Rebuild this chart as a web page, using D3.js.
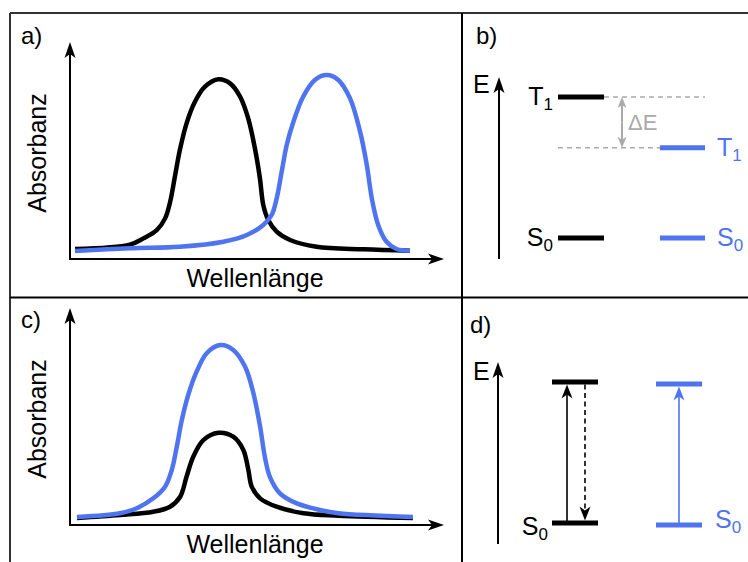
<!DOCTYPE html>
<html>
<head>
<meta charset="utf-8">
<script src="https://cdn.jsdelivr.net/npm/d3@7"></script>
<style>
  body { margin: 0; background: #fff; }
  svg { display: block; }
  text { font-family: "Liberation Sans", Arial, sans-serif; }
</style>
</head>
<body>
<svg id="fig" width="748" height="562"></svg>
<script>
const BLUE = "#4f74f0", GREY = "#aaaaaa";

// panel a: [wavelength 0-100, absorbance 0-1]
const specA_black = [[0,0.017],[16.4,0.042],[20.4,0.077],[24.4,0.124],[26.9,0.19],[28.4,0.284],[29.9,0.435],
  [31.3,0.576],[33.3,0.727],[35.8,0.849],[38.8,0.934],[42.8,0.976],[46.3,0.953],[49.3,0.877],[51.7,0.755],
  [53.7,0.586],[55.2,0.416],[56.2,0.266],[57.7,0.181],[60.2,0.115],[64.2,0.068],[72.1,0.03],[86.1,0.015],[100,0.007]];
const specA_blue = [[0,0.006],[16.4,0.021],[31.3,0.03],[44.3,0.058],[51.3,0.096],[56.2,0.153],[58.7,0.209],
  [60.2,0.303],[61.7,0.454],[63.2,0.605],[65.2,0.736],[68.1,0.877],[71.6,0.972],[75.1,1.0],[78.6,0.972],
  [82.1,0.868],[85.1,0.68],[87.1,0.492],[88.6,0.303],[90.5,0.153],[93.0,0.058],[96.0,0.017],[100,0.007]];

// panel c
const specC_blue = [[0,0.006],[12.8,0.027],[17.8,0.056],[22.7,0.113],[26.2,0.18],[28.2,0.276],[29.7,0.41],
  [31.2,0.563],[33.1,0.707],[35.6,0.841],[38.6,0.947],[42.6,0.994],[46.5,0.966],[50.0,0.87],[52.5,0.717],
  [54.5,0.525],[55.9,0.352],[57.4,0.237],[60.4,0.142],[65.4,0.084],[72.3,0.046],[77.8,0.027],[100,0.006]];
const specC_black = [[0,0.0],[12.8,0.017],[22.7,0.036],[27.7,0.065],[30.7,0.122],[32.6,0.237],[34.6,0.352],
  [37.6,0.448],[42.1,0.49],[46.5,0.467],[49.5,0.391],[51.0,0.276],[52.0,0.18],[54.5,0.113],[59.4,0.065],
  [67.4,0.027],[77.8,0.013],[100,0.0]];

// panel b: energy levels (relative)
const levelsB_black = [{name: "T", sub: "1", E: 1.0}, {name: "S", sub: "0", E: 0.0}];
const levelsB_blue = [{name: "T", sub: "1", E: 0.64}, {name: "S", sub: "0", E: 0.0}];

// panel d
const levelsD_black = [{name: "", sub: "", E: 1.0}, {name: "S", sub: "0", E: 0.0}];
const levelsD_blue = [{name: "", sub: "", E: 0.986}, {name: "S", sub: "0", E: -0.014}];

const svg = d3.select("#fig");

// frame
const frame = svg.append("g").attr("stroke-width", 2);
frame.append("line").attr("x1", 10).attr("y1", 13).attr("x2", 748).attr("y2", 13).attr("stroke", "#333");
frame.append("line").attr("x1", 10).attr("y1", 13).attr("x2", 10).attr("y2", 562).attr("stroke", "#333");
frame.append("line").attr("x1", 10).attr("y1", 297.5).attr("x2", 748).attr("y2", 297.5).attr("stroke", "#000");
frame.append("line").attr("x1", 462).attr("y1", 13).attr("x2", 462).attr("y2", 562).attr("stroke", "#000");

function arrow(g, x1, y1, x2, y2, o) {
  const ang = Math.atan2(y2 - y1, x2 - x1);
  const back = o.len - o.notch - 1;
  g.append("line")
    .attr("x1", x1).attr("y1", y1)
    .attr("x2", x2 - Math.cos(ang) * back).attr("y2", y2 - Math.sin(ang) * back)
    .attr("stroke", o.color).attr("stroke-width", o.width)
    .attr("stroke-dasharray", o.dash || null);
  g.append("path")
    .attr("d", `M0,0 L${-o.len},${-o.hw} L${-o.len + o.notch},0 L${-o.len},${o.hw} Z`)
    .attr("transform", `translate(${x2},${y2}) rotate(${ang * 180 / Math.PI})`)
    .attr("fill", o.color);
}
const axisHead = {len: 16, hw: 5.5, notch: 4, color: "#000", width: 2};

function label(g, x, y, t, size, anchor) {
  return g.append("text").attr("x", x).attr("y", y).attr("font-size", size)
    .attr("text-anchor", anchor || "start").text(t);
}

function spectrum(g, top, plot, series) {
  const x = d3.scaleLinear().domain([0, 100]).range(plot.x);
  const y = d3.scaleLinear().domain([0, 1]).range(plot.y);
  const line = d3.line().x(d => x(d[0])).y(d => y(d[1])).curve(d3.curveCatmullRom.alpha(0.5));
  series.forEach(s => {
    g.append("path").datum(s.data).attr("d", line)
      .attr("fill", "none").attr("stroke", s.color).attr("stroke-width", 4.5)
      .attr("stroke-linejoin", "round");
  });
  arrow(g, 70, plot.axisY, 70, top + 29, axisHead);
  arrow(g, 69, plot.axisY, 444, plot.axisY, axisHead);
  label(g, 0, 0, "Absorbanz", 25, "middle")
    .attr("transform", `translate(46,${plot.labelY}) rotate(-90)`);
  label(g, 255, plot.axisY + 28, "Wellenlänge", 25, "middle");
}

// panel a
const ga = svg.append("g");
label(ga, 21, 44, "a)", 24);
spectrum(ga, 13, {x: [75, 410], y: [252, 75], axisY: 259, labelY: 153}, [
  {data: specA_black, color: "#000"},
  {data: specA_blue, color: BLUE}
]);

// panel c
const gc = svg.append("g");
label(gc, 21, 328, "c)", 24);
spectrum(gc, 279, {x: [77, 413], y: [518, 344], axisY: 525, labelY: 419}, [
  {data: specC_black, color: "#000"},
  {data: specC_blue, color: BLUE}
]);

function levelLabel(g, x, y, d, color, anchor) {
  const t = g.append("text").attr("x", x).attr("y", y).attr("font-size", 25)
    .attr("fill", color).attr("text-anchor", anchor);
  t.append("tspan").text(d.name);
  t.append("tspan").attr("font-size", 17).attr("dy", 5).text(d.sub);
}

// panel b
const gb = svg.append("g");
label(gb, 476, 44, "b)", 24);
arrow(gb, 499, 259, 499, 77, axisHead);
label(gb, 473, 93, "E", 25);
const yb = d3.scaleLinear().domain([0, 1]).range([238, 97]);
const bx = {black: [558, 604], blue: [660, 705]};
gb.append("line").attr("x1", bx.black[1]).attr("x2", bx.blue[1])
  .attr("y1", yb(levelsB_black[0].E)).attr("y2", yb(levelsB_black[0].E))
  .attr("stroke", GREY).attr("stroke-width", 1.5).attr("stroke-dasharray", "5,4");
gb.append("line").attr("x1", bx.black[0]).attr("x2", bx.blue[0])
  .attr("y1", yb(levelsB_blue[0].E)).attr("y2", yb(levelsB_blue[0].E))
  .attr("stroke", GREY).attr("stroke-width", 1.5).attr("stroke-dasharray", "5,4");
const dEhead = {len: 11, hw: 4.5, notch: 3, color: GREY, width: 2};
const ym = (yb(levelsB_black[0].E) + yb(levelsB_blue[0].E)) / 2;
arrow(gb, 622, ym, 622, yb(levelsB_black[0].E), dEhead);
arrow(gb, 622, ym, 622, yb(levelsB_blue[0].E), dEhead);
label(gb, 628, 130, "ΔE", 22).attr("fill", GREY);

levelsB_black.forEach(d => {
  gb.append("line").attr("x1", bx.black[0]).attr("x2", bx.black[1])
    .attr("y1", yb(d.E)).attr("y2", yb(d.E)).attr("stroke", "#000").attr("stroke-width", 5);
  levelLabel(gb, 553, yb(d.E) + 8, d, "#000", "end");
});
levelsB_blue.forEach(d => {
  gb.append("line").attr("x1", bx.blue[0]).attr("x2", bx.blue[1])
    .attr("y1", yb(d.E)).attr("y2", yb(d.E)).attr("stroke", BLUE).attr("stroke-width", 5);
  levelLabel(gb, 717, yb(d.E) + 8, d, BLUE, "start");
});

// panel d
const gd = svg.append("g");
label(gd, 470, 333, "d)", 24);
arrow(gd, 498, 544, 498, 362, axisHead);
label(gd, 473, 380, "E", 25);
const yd = d3.scaleLinear().domain([0, 1]).range([523, 382]);
const dx = {black: [552, 598], blue: [656, 702]};
const thin = {len: 14, hw: 5.5, notch: 4, width: 1.6};

levelsD_black.forEach(d => {
  gd.append("line").attr("x1", dx.black[0]).attr("x2", dx.black[1])
    .attr("y1", yd(d.E)).attr("y2", yd(d.E)).attr("stroke", "#000").attr("stroke-width", 5);
  if (d.name) levelLabel(gd, 548, yd(d.E) + 12, d, "#000", "end");
});
levelsD_blue.forEach(d => {
  gd.append("line").attr("x1", dx.blue[0]).attr("x2", dx.blue[1])
    .attr("y1", yd(d.E)).attr("y2", yd(d.E)).attr("stroke", BLUE).attr("stroke-width", 5);
  if (d.name) levelLabel(gd, 715, yd(d.E) + 3, d, BLUE, "start");
});
arrow(gd, 567, yd(levelsD_black[1].E), 567, yd(levelsD_black[0].E) + 2.5, Object.assign({color: "#000"}, thin));
arrow(gd, 585, yd(levelsD_black[0].E) + 2.5, 585, yd(levelsD_black[1].E) - 2.5,
  Object.assign({color: "#000", dash: "5,3.5"}, thin));
arrow(gd, 679, yd(levelsD_blue[1].E), 679, yd(levelsD_blue[0].E) + 2.5, Object.assign({color: BLUE}, thin));
</script>
</body>
</html>
